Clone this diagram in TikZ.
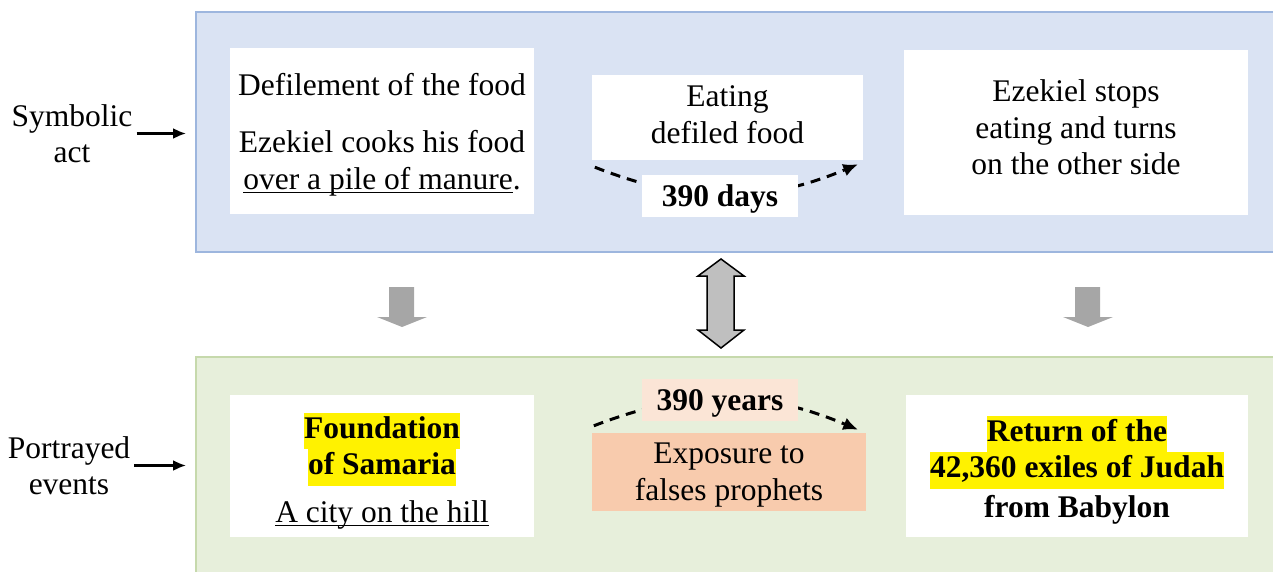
\documentclass[tikz,border=0pt]{standalone}
\usepackage{fontspec}
\setmainfont{Liberation Serif}
\usetikzlibrary{arrows.meta}
\definecolor{actblue}{HTML}{DAE3F3}
\definecolor{actedge}{HTML}{9DB6DE}
\definecolor{eventgreen}{HTML}{E7EFDB}
\definecolor{eventedge}{HTML}{C6D9AC}
\definecolor{peach}{HTML}{FBE5D6}
\definecolor{apricot}{HTML}{F8CBAD}
\newcommand{\diagfont}{\fontsize{31.5}{36.5}\selectfont}
\newcommand{\hilite}[1]{{\setlength{\fboxsep}{0pt}\colorbox{yellow}{\strut #1}}}
\newcommand{\under}[1]{{\setbox0\hbox{#1}\rlap{\rule[-4pt]{\wd0}{1.8pt}}\box0}}
\begin{document}
\begin{tikzpicture}[x=1pt,y=-1pt,font=\diagfont,
  box/.style={fill=white,inner sep=0pt},
  words/.style={inner sep=0pt,align=center},
  pointer/.style={-{Latex[length=13pt,width=11pt]},line width=2.2pt},
  dasharrow/.style={-{Latex[length=15pt,width=13pt]},line width=3pt,dash pattern=on 10pt off 7pt}]
  \useasboundingbox (0,0) rectangle (1273,572);
  \clip (0,0) rectangle (1273,572);
  % panels
  \node[fill=actblue,draw=actedge,line width=2pt,minimum width=1100,minimum height=240,inner sep=0pt] (act) at (746,132) {};
  \node[fill=eventgreen,draw=eventedge,line width=2pt,minimum width=1100,minimum height=240,inner sep=0pt] (events) at (746,477) {};
  % symbolic act
  \node[box,minimum width=304,minimum height=166] (defile) at (382,131) {};
  \node[words] (defiletext) at ([yshift=-4pt]defile.center) {Defilement of the food\\[20.5pt]Ezekiel cooks his food\\\under{over a pile of manure}.};
  \node[box,minimum width=271,minimum height=85] (eating) at (727.5,117.5) {};
  \node[words] (eatingtext) at ([yshift=3pt]eating.center) {Eating\\defiled food};
  \node[box,minimum width=344,minimum height=165] (stops) at (1076,132.5) {};
  \node[words] (stopstext) at ([yshift=5pt]stops.center) {Ezekiel stops\\eating and turns\\on the other side};
  \draw[dasharrow] ([xshift=3pt,yshift=-7pt]eating.south west) to[bend right=22] ([xshift=-5pt,yshift=-4pt]eating.south east);
  \node[box,minimum width=156,minimum height=42] (days) at (720,196) {};
  \node[words,font=\diagfont\bfseries] (daystext) at ([yshift=-3pt]days.center) {390 days};
  % portrayed events
  \node[box,minimum width=304,minimum height=142] (samaria) at (382,466) {};
  \node[words,font=\diagfont\bfseries] (samariatext) at ([yshift=-5pt]samaria.center) {\hilite{Foundation}\\\hilite{of Samaria}\\[11pt]\textmd{\under{A city on the hill}}};
  \node[box,fill=apricot,minimum width=274,minimum height=78] (exposure) at (729,472) {};
  \node[words] (exposuretext) at ([yshift=-3pt]exposure.center) {Exposure to\\falses prophets};
  \draw[dasharrow] ([xshift=2pt,yshift=7pt]exposure.north west) to[bend left=22] ([xshift=-8pt,yshift=3pt]exposure.north east);
  \node[box,fill=peach,minimum width=156,minimum height=42] (years) at (720,400) {};
  \node[words,font=\diagfont\bfseries] (yearstext) at ([yshift=-3pt]years.center) {390 years};
  \node[box,minimum width=342,minimum height=142] (return) at (1077,466) {};
  \node[words,font=\diagfont\bfseries] (returntext) at ([yshift=-4pt]return.center) {\hilite{Return of the}\\\hilite{42,360 exiles of Judah}\\[3pt]from Babylon};
  % side labels
  \node[words] (symb) at (72,133.5) {Symbolic\\act};
  \draw[pointer] ([xshift=4pt]symb.east) -- ([xshift=-9pt]act.west |- symb.east);
  \node[words] (portray) at (69,465.5) {Portrayed\\events};
  \draw[pointer] ([xshift=4pt]portray.east) -- ([xshift=-9pt]events.west |- portray.east);
  % block arrows
  \foreach \x in {402,1088} {
    \fill[black!35] (\x-13,287) -- (\x+12,287) -- (\x+12,317) -- (\x+25,317) -- (\x,327) -- (\x-25,317) -- (\x-13,317) -- cycle;
  }
  \draw[fill=black!25,line width=1.5pt] (721,259) -- (744,276) -- (734,276) -- (734,330) -- (744,330) -- (721,348) -- (698,330) -- (707,330) -- (707,276) -- (698,276) -- cycle;
\end{tikzpicture}
\end{document}
